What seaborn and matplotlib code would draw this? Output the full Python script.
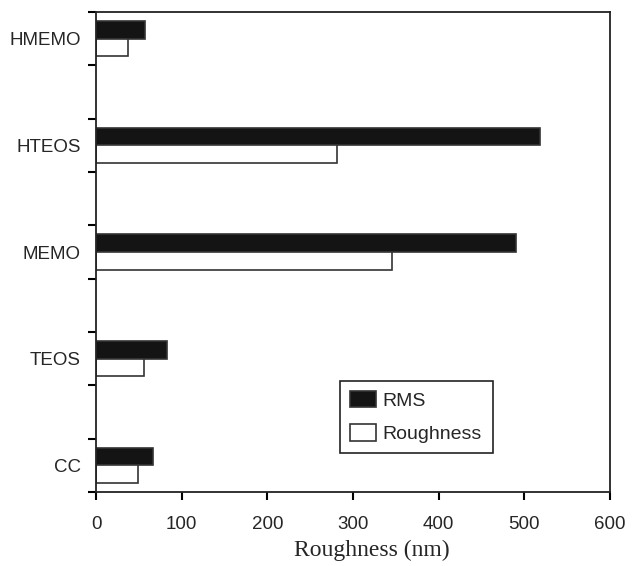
import pandas as pd
import matplotlib.pyplot as plt
import seaborn as sns

# values
samples = ['HMEMO', 'HTEOS', 'MEMO', 'TEOS', 'CC']
rms = [57, 518, 490, 83, 66]
roughness = [37, 281, 345, 56, 49]

# Excel-style axis: empty slots between the samples
order = ['HMEMO', ' ', 'HTEOS', '  ', 'MEMO', '   ', 'TEOS', '    ', 'CC']

df = pd.DataFrame({
    'sample': samples * 2,
    'value': rms + roughness,
    'series': ['RMS'] * len(samples) + ['Roughness'] * len(samples),
})

sns.set_theme(style="white")
plt.rcParams['font.family'] = ['Liberation Sans', 'DejaVu Sans']

fig = plt.figure(figsize=(6.32, 5.66), dpi=100)
ax = fig.add_axes([0.152, 0.1307, 0.813, 0.848])

sns.barplot(data=df, x='value', y='sample', hue='series', order=order,
            hue_order=['RMS', 'Roughness'],
            palette={'RMS': '#141414', 'Roughness': 'white'},
            width=0.66, edgecolor='#333333', linewidth=1.2, ax=ax)

ax.set_xlim(0, 600)
ax.set_xticks(range(0, 601, 100))
ax.tick_params(axis='x', direction='out', length=6, width=1.5, color='black',
               labelsize=13.5, pad=11, bottom=True)

# labels at the samples, ticks at the slot boundaries
ax.set_yticks([order.index(s) for s in samples])
ax.set_yticklabels(samples)
ax.set_yticks([i - 0.5 for i in range(len(order) + 1)], minor=True)
ax.tick_params(axis='y', which='major', length=0, labelsize=13.5, pad=11)
ax.tick_params(axis='y', which='minor', direction='out', length=6, width=1.5,
               color='black', left=True)

ax.set_ylabel('')
ax.set_xlabel('Roughness (nm)', family=['Liberation Serif', 'DejaVu Serif'],
              fontsize=17, labelpad=5, x=0.537)

for side in ['left', 'right', 'top', 'bottom']:
    ax.spines[side].set_visible(True)
    ax.spines[side].set_color('#222222')
    ax.spines[side].set_linewidth(1.3)

handles, labels = ax.get_legend_handles_labels()
leg = ax.legend(handles, labels, loc='lower left',
                bbox_to_anchor=(0.475, 0.081, 0.297, 0.152), mode='expand',
                borderaxespad=0, fancybox=False, framealpha=1, fontsize=14,
                handlelength=1.35, handleheight=0.95, handletextpad=0.3,
                labelspacing=0.75, borderpad=0.5)
leg.get_frame().set_edgecolor('#222222')
leg.get_frame().set_linewidth(1.2)

fig.savefig('out.png', dpi=100)
